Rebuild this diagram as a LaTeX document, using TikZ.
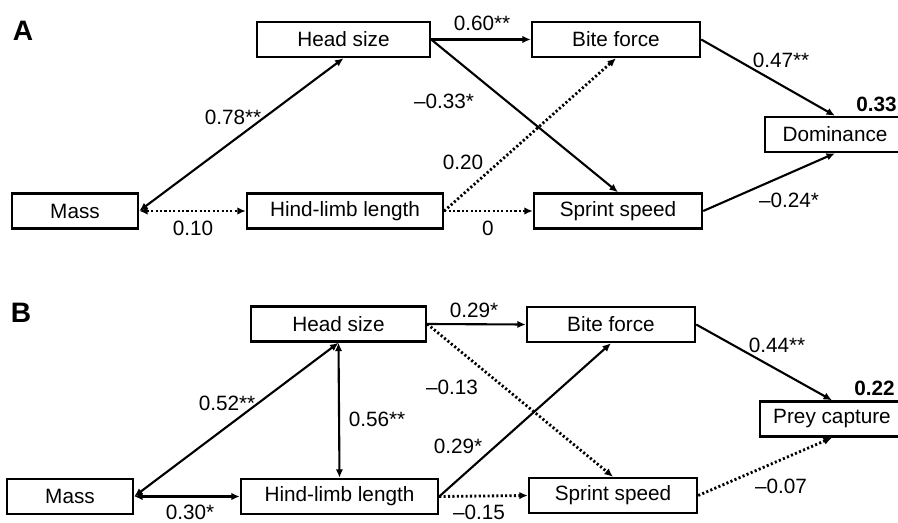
\documentclass[tikz,border=0pt]{standalone}
\usepackage{fontspec}
\setmainfont{Liberation Sans}
\usetikzlibrary{arrows.meta}
\tikzset{
    every node/.style={font=\fontsize{11.8pt}{13pt}\selectfont},
    varbox/.style={draw, line width=1.4pt, minimum height=0.7cm, inner sep=0pt},
    effect/.style={line width=1.2pt, -{Latex[length=1.7mm,width=1.5mm]}},
    noeffect/.style={line width=1.6pt, dash pattern=on 1.2pt off 1.3pt, -{Latex[length=1.7mm,width=1.5mm]}},
    both/.style={{Latex[length=1.7mm,width=1.5mm]}-{Latex[length=1.7mm,width=1.5mm]}},
    panel/.style={font=\fontsize{16pt}{18pt}\selectfont\bfseries},
    rsq/.style={anchor=east, inner xsep=0pt, font=\fontsize{11.8pt}{13pt}\selectfont\bfseries}
}
\begin{document}
\begin{tikzpicture}[x=0.02cm, y=-0.02cm]
            \useasboundingbox (0,0) rectangle (898,523);

            % Panel A
            \node[panel] (labA) at (23,31) {A};
            \node[varbox, minimum width=3.46cm] (headA) at (343.5,39.5) {Head size};
            \node[varbox, minimum width=2.52cm] (massA) at (75,211) {Mass};
            \node[varbox, minimum width=3.92cm] (limbA) at (345,211) {Hind-limb length};
            \node[varbox, minimum width=3.36cm] (biteA) at (616,39.5) {Bite force};
            \node[varbox, minimum width=3.36cm] (sprintA) at (618,211) {Sprint speed};
            \node[varbox, minimum width=2.8cm] (domA) at (835,134.5) {Dominance};
            \node[rsq] (rA) at (897,104) {0.33};

            % Paths of panel A
            \draw[effect, both] (massA.east) -- (headA.south);
            \draw[noeffect, both] (massA.east) -- (limbA.west);
            \draw[effect] (headA.east) -- (biteA.west);
            \draw[effect] (headA.east) -- (sprintA.north);
            \draw[noeffect] (limbA.east) -- (biteA.south);
            \draw[noeffect] (limbA.east) -- (sprintA.west);
            \draw[effect] (biteA.east) -- (domA.north);
            \draw[effect] (sprintA.east) -- (domA.south);

            % Coefficients of panel A
            \node (cA1) at (233,117) {0.78**};
            \node (cA2) at (193,228) {0.10};
            \node (cA3) at (482,23) {0.60**};
            \node (cA4) at (444,101) {--0.33*};
            \node (cA5) at (463,162) {0.20};
            \node (cA6) at (488,228) {0};
            \node (cA7) at (781,60) {0.47**};
            \node (cA8) at (789,200) {--0.24*};

            % Panel B
            \node[panel] (labB) at (21,313) {B};
            \node[varbox, minimum width=3.5cm] (headB) at (338.5,324) {Head size};
            \node[varbox, minimum width=2.52cm] (massB) at (70,496.5) {Mass};
            \node[varbox, minimum width=3.94cm] (limbB) at (339.5,496.5) {Hind-limb length};
            \node[varbox, minimum width=3.36cm] (biteB) at (611,324.5) {Bite force};
            \node[varbox, minimum width=3.36cm] (sprintB) at (613,495.5) {Sprint speed};
            \node[varbox, minimum width=2.88cm] (preyB) at (832,419) {Prey capture};
            \node[rsq] (rB) at (895,388) {0.22};

            % Paths of panel B
            \draw[effect, both] (massB.east) -- (headB.south);
            \draw[effect, both] (headB.south) -- (limbB.north);
            \draw[effect, both] (massB.east) -- (limbB.west);
            \draw[effect] (headB.east) -- (biteB.west);
            \draw[noeffect] (headB.east) -- (sprintB.north);
            \draw[effect] (limbB.east) -- (biteB.south);
            \draw[noeffect] (limbB.east) -- (sprintB.west);
            \draw[effect] (biteB.east) -- (preyB.north);
            \draw[noeffect] (sprintB.east) -- (preyB.south);

            % Coefficients of panel B
            \node (cB1) at (227,403) {0.52**};
            \node (cB2) at (377,419) {0.56**};
            \node (cB3) at (190,512) {0.30*};
            \node (cB4) at (474,310) {0.29*};
            \node (cB5) at (452,387) {--0.13};
            \node (cB6) at (458,446) {0.29*};
            \node (cB7) at (479,512) {--0.15};
            \node (cB8) at (777,345) {0.44**};
            \node (cB9) at (781,486) {--0.07};
\end{tikzpicture}
\end{document}
